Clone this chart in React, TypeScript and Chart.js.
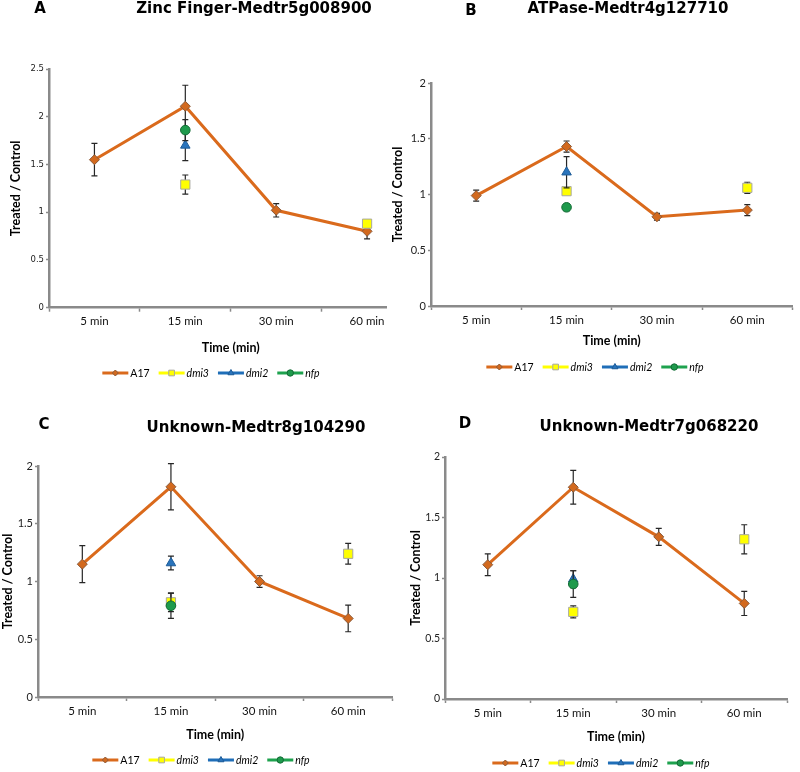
import React, { useEffect, useRef } from 'react';
import { Chart, registerables } from 'chart.js';

Chart.register(...registerables);

// ---------------- DATA ----------------
const categories = ['5 min', '15 min', '30 min', '60 min'];
const seriesNames = ['A17', 'dmi3', 'dmi2', 'nfp'];
const italicNames = [false, true, true, true];

const yTicksA = [0, 0.5, 1, 1.5, 2, 2.5];
const yTicksBCD = [0, 0.5, 1, 1.5, 2];

// Panel A – Zinc Finger-Medtr5g008900
const aA17 = [1.55, 2.11, 1.02, 0.8];
const aA17Err = [0.17, 0.22, 0.07, 0.08];
const aDmi3 = [null, 1.29, null, 0.88];
const aDmi3Err = [null, 0.1, null, 0.03];
const aDmi2 = [null, 1.7, null, null];
const aDmi2Err = [null, 0.16, null, null];
const aNfp = [null, 1.86, null, null];
const aNfpErr = [null, 0.11, null, null];

// Panel B – ATPase-Medtr4g127710
const bA17 = [0.99, 1.43, 0.8, 0.86];
const bA17Err = [0.05, 0.05, 0.03, 0.05];
const bDmi3 = [null, 1.03, null, 1.06];
const bDmi3Err = [null, 0.02, null, 0.05];
const bDmi2 = [null, 1.2, null, null];
const bDmi2Err = [null, 0.14, null, null];
const bNfp = [null, 0.885, null, null];
const bNfpErr = [null, 0.03, null, null];

// Panel C – Unknown-Medtr8g104290
const cA17 = [1.15, 1.82, 1.0, 0.68];
const cA17Err = [0.16, 0.2, 0.05, 0.115];
const cDmi3 = [null, 0.82, null, 1.24];
const cDmi3Err = [null, 0.08, null, 0.09];
const cDmi2 = [null, 1.16, null, null];
const cDmi2Err = [null, 0.06, null, null];
const cNfp = [null, 0.79, null, null];
const cNfpErr = [null, 0.11, null, null];

// Panel D – Unknown-Medtr7g068220
const dA17 = [1.11, 1.75, 1.34, 0.79];
const dA17Err = [0.09, 0.14, 0.07, 0.1];
const dDmi3 = [null, 0.72, null, 1.32];
const dDmi3Err = [null, 0.05, null, 0.12];
const dDmi2 = [null, 0.99, null, null];
const dDmi2Err = [null, 0.07, null, null];
const dNfp = [null, 0.95, null, null];
const dNfpErr = [null, 0.11, null, null];

// ---------------- STYLES ----------------
const STYLES = [
  { line: '#DA6A1C', fill: '#D2691E', border: '#8A5A3A', point: 'rectRot', radius: 5, legendR: 3 },
  { line: '#FFFF00', fill: '#FFFF00', border: '#A8A8A0', point: 'rect', radius: 6.5, legendR: 4 },
  { line: '#1F6EB8', fill: '#2A74BC', border: '#1D5C98', point: 'triangle', radius: 5.5, legendR: 3.5 },
  { line: '#1EA24E', fill: '#1E9A4C', border: '#136B35', point: 'circle', radius: 4.8, legendR: 3.2 },
];

const AXIS_COLOR = '#8a8a8a';
const TITLE_FONT = 'bold 15px "DejaVu Sans"';
const AXIS_TITLE_SIZE = 12.5;
const AXIS_TITLE_LH = 1.2;

type Layout = {
  box: { left: number; top: number; width: number; clip: number; height: number };
  area: { l: number; t: number; r: number; b: number };
  xTitleY: number;
  yTitleX: number;
  legendCX: number;
  legendY: number;
  letterX: number;
  letterY: number;
  titleCX: number;
  titleY: number;
  yTickFont: { family: string; size: number };
};

const panels = [
  {
    letter: 'A',
    title: 'Zinc Finger-Medtr5g008900',
    yMax: 2.5,
    yTicks: yTicksA,
    series: [
      [aA17, aA17Err],
      [aDmi3, aDmi3Err],
      [aDmi2, aDmi2Err],
      [aNfp, aNfpErr],
    ],
    layout: {
      box: { left: 0, top: 0, width: 420, clip: 387, height: 386 },
      area: { l: 49, t: 69, r: 413, b: 307.7 },
      xTitleY: 348,
      yTitleX: 16,
      legendCX: 211,
      legendY: 373,
      letterX: 40,
      letterY: 9,
      titleCX: 254,
      titleY: 9,
      yTickFont: { family: 'DejaVu Sans', size: 8.5 },
    } as Layout,
  },
  {
    letter: 'B',
    title: 'ATPase-Medtr4g127710',
    yMax: 2,
    yTicks: yTicksBCD,
    series: [
      [bA17, bA17Err],
      [bDmi3, bDmi3Err],
      [bDmi2, bDmi2Err],
      [bNfp, bNfpErr],
    ],
    layout: {
      box: { left: 390, top: 0, width: 410, clip: 410, height: 386 },
      area: { l: 431, t: 83, r: 795, b: 306 },
      xTitleY: 341,
      yTitleX: 398,
      legendCX: 595,
      legendY: 367,
      letterX: 471,
      letterY: 11,
      titleCX: 628,
      titleY: 9,
      yTickFont: { family: 'Lato', size: 11 },
    } as Layout,
  },
  {
    letter: 'C',
    title: 'Unknown-Medtr8g104290',
    yMax: 2,
    yTicks: yTicksBCD,
    series: [
      [cA17, cA17Err],
      [cDmi3, cDmi3Err],
      [cDmi2, cDmi2Err],
      [cNfp, cNfpErr],
    ],
    layout: {
      box: { left: 0, top: 386, width: 400, clip: 400, height: 386 },
      area: { l: 38, t: 466, r: 398, b: 697 },
      xTitleY: 735,
      yTitleX: 8,
      legendCX: 201,
      legendY: 760,
      letterX: 44,
      letterY: 425,
      titleCX: 256,
      titleY: 428,
      yTickFont: { family: 'Lato', size: 11 },
    } as Layout,
  },
  {
    letter: 'D',
    title: 'Unknown-Medtr7g068220',
    yMax: 2,
    yTicks: yTicksBCD,
    series: [
      [dA17, dA17Err],
      [dDmi3, dDmi3Err],
      [dDmi2, dDmi2Err],
      [dNfp, dNfpErr],
    ],
    layout: {
      box: { left: 400, top: 386, width: 400, clip: 400, height: 386 },
      area: { l: 445, t: 457, r: 787, b: 699 },
      xTitleY: 737,
      yTitleX: 416,
      legendCX: 601,
      legendY: 763,
      letterX: 465,
      letterY: 424,
      titleCX: 649,
      titleY: 427,
      yTickFont: { family: 'Lato', size: 10.5 },
    } as Layout,
  },
];

// ---------------- PLUGINS ----------------
const errorBarPlugin = {
  id: 'errorBars',
  beforeDatasetDraw(chart: any, args: any) {
    const ds = chart.data.datasets[args.index];
    const errs = ds.errors;
    if (!errs) return;
    const ctx = chart.ctx;
    const yScale = chart.scales.y;
    ctx.save();
    ctx.strokeStyle = '#262626';
    ctx.lineWidth = 1.2;
    args.meta.data.forEach((pt: any, i: number) => {
      const v = ds.data[i];
      const e = errs[i];
      if (v == null || e == null) return;
      const x = pt.x;
      const yt = yScale.getPixelForValue(v + e);
      const yb = yScale.getPixelForValue(v - e);
      ctx.beginPath();
      ctx.moveTo(x, yt);
      ctx.lineTo(x, yb);
      ctx.moveTo(x - 3, yt);
      ctx.lineTo(x + 3, yt);
      ctx.moveTo(x - 3, yb);
      ctx.lineTo(x + 3, yb);
      ctx.stroke();
    });
    ctx.restore();
  },
};

function drawMarker(ctx: CanvasRenderingContext2D, style: string, x: number, y: number, r: number) {
  ctx.beginPath();
  if (style === 'rectRot') {
    ctx.moveTo(x, y - r);
    ctx.lineTo(x + r, y);
    ctx.lineTo(x, y + r);
    ctx.lineTo(x - r, y);
    ctx.closePath();
  } else if (style === 'rect') {
    const s = r * Math.SQRT1_2;
    ctx.rect(x - s, y - s, 2 * s, 2 * s);
  } else if (style === 'triangle') {
    ctx.moveTo(x, y - r);
    ctx.lineTo(x + r * 0.866, y + r * 0.5);
    ctx.lineTo(x - r * 0.866, y + r * 0.5);
    ctx.closePath();
  } else {
    ctx.arc(x, y, r, 0, Math.PI * 2);
  }
  ctx.fill();
  ctx.stroke();
}

function makeDecorPlugin(letter: string, title: string, L: Layout) {
  return {
    id: 'decor' + letter,
    afterDraw(chart: any) {
      const ctx: CanvasRenderingContext2D = chart.ctx;
      const ox = L.box.left;
      const oy = L.box.top;
      ctx.save();
      ctx.fillStyle = '#000';
      ctx.textBaseline = 'middle';
      ctx.textAlign = 'center';
      ctx.font = TITLE_FONT;
      ctx.fillText(letter, L.letterX - ox, L.letterY - oy);
      ctx.fillText(title, L.titleCX - ox, L.titleY - oy);

      // legend
      const lineLen = 26;
      const gapText = 2;
      const gapItem = 9;
      const fontNormal = '10.5px Lato';
      const fontItalic = 'italic 10.5px Lato';
      const widths = seriesNames.map((n, i) => {
        ctx.font = italicNames[i] ? fontItalic : fontNormal;
        return ctx.measureText(n).width;
      });
      const total =
        widths.reduce((s, w) => s + w + lineLen + gapText, 0) + gapItem * (seriesNames.length - 1);
      let x = L.legendCX - ox - total / 2;
      const y = L.legendY - oy;
      seriesNames.forEach((n, i) => {
        const st = STYLES[i];
        ctx.strokeStyle = st.line;
        ctx.lineWidth = 3;
        ctx.beginPath();
        ctx.moveTo(x, y);
        ctx.lineTo(x + lineLen, y);
        ctx.stroke();
        ctx.fillStyle = st.fill;
        ctx.strokeStyle = st.border;
        ctx.lineWidth = 1;
        drawMarker(ctx, st.point, x + lineLen / 2, y, st.legendR);
        ctx.fillStyle = '#000';
        ctx.textAlign = 'left';
        ctx.font = italicNames[i] ? fontItalic : fontNormal;
        ctx.fillText(n, x + lineLen + gapText, y + 0.5);
        x += lineLen + gapText + widths[i] + gapItem;
      });
      ctx.restore();
    },
  };
}

// ---------------- COMPONENTS ----------------
function Panel({ cfg }: { cfg: (typeof panels)[number] }) {
  const ref = useRef<HTMLCanvasElement>(null);
  const L = cfg.layout;

  useEffect(() => {
    const canvas = ref.current;
    if (!canvas) return;
    const LH = AXIS_TITLE_SIZE * AXIS_TITLE_LH;
    const yw = L.area.l - L.box.left;
    const padTop = L.area.t - L.box.top;
    const padRight = L.box.left + L.box.width - L.area.r;
    const xh = L.xTitleY - L.area.b + LH / 2;
    const padBottom = L.box.height - (L.area.b - L.box.top) - xh;
    const yTitlePad = Math.max(0, L.yTitleX - L.box.left - LH / 2);

    const datasets = cfg.series.map(([data, err], i) => {
      const st = STYLES[i];
      return {
        label: seriesNames[i],
        data: data as (number | null)[],
        errors: err,
        order: 4 - i,
        showLine: i === 0,
        borderColor: st.line,
        borderWidth: 3,
        backgroundColor: st.fill,
        pointStyle: st.point,
        pointRadius: st.radius,
        pointBackgroundColor: st.fill,
        pointBorderColor: st.border,
        pointBorderWidth: 1,
        tension: 0,
      };
    });

    const chart = new Chart(canvas, {
      type: 'line',
      data: { labels: categories, datasets: datasets as any },
      plugins: [errorBarPlugin, makeDecorPlugin(cfg.letter, cfg.title, L)],
      options: {
        responsive: false,
        maintainAspectRatio: false,
        animation: false,
        events: [],
        layout: { padding: { left: 0, top: padTop, right: padRight, bottom: padBottom } },
        plugins: {
          legend: { display: false },
          tooltip: { enabled: false },
          title: { display: false },
        },
        scales: {
          x: {
            type: 'category',
            offset: true,
            grid: {
              offset: true,
              drawOnChartArea: false,
              drawTicks: true,
              tickLength: 4,
              tickColor: AXIS_COLOR,
              tickWidth: 1.5,
            },
            border: { display: true, color: AXIS_COLOR, width: 2.5 },
            ticks: {
              color: '#111',
              font: { family: 'Lato', size: 11.5 },
              padding: 3,
              maxRotation: 0,
              autoSkip: false,
            },
            title: {
              display: true,
              text: 'Time (min)',
              color: '#000',
              font: { family: 'Lato', size: AXIS_TITLE_SIZE, weight: 'bold', lineHeight: AXIS_TITLE_LH },
              padding: { top: 0, bottom: 0 },
            },
            afterFit: (s: any) => {
              s.height = xh;
            },
          },
          y: {
            min: 0,
            max: cfg.yMax,
            afterBuildTicks: (s: any) => {
              s.ticks = cfg.yTicks.map((v) => ({ value: v }));
            },
            grid: {
              drawOnChartArea: false,
              drawTicks: true,
              tickLength: 3,
              tickColor: AXIS_COLOR,
              tickWidth: 1.5,
            },
            border: { display: true, color: AXIS_COLOR, width: 2.5 },
            ticks: {
              color: '#222',
              font: L.yTickFont,
              padding: 2,
              callback: (v: any) => String(v),
            },
            title: {
              display: true,
              text: 'Treated / Control',
              color: '#000',
              font: { family: 'Lato', size: AXIS_TITLE_SIZE, weight: 'bold', lineHeight: AXIS_TITLE_LH },
              padding: { top: yTitlePad, bottom: 0 },
            },
            afterFit: (s: any) => {
              s.width = yw;
            },
          },
        },
      } as any,
    });
    return () => chart.destroy();
  }, []);

  return (
    <div
      style={{
        position: 'absolute',
        left: L.box.left,
        top: L.box.top,
        width: L.box.clip,
        height: L.box.height,
        overflow: 'hidden',
      }}
    >
      <canvas
        ref={ref}
        width={L.box.width}
        height={L.box.height}
        style={{ width: L.box.width, height: L.box.height, display: 'block' }}
      />
    </div>
  );
}

export default function App() {
  return (
    <div
      style={{
        position: 'fixed',
        left: 0,
        top: 0,
        width: 800,
        height: 772,
        background: '#fff',
        overflow: 'hidden',
      }}
    >
      {panels.map((p) => (
        <Panel key={p.letter} cfg={p} />
      ))}
    </div>
  );
}
